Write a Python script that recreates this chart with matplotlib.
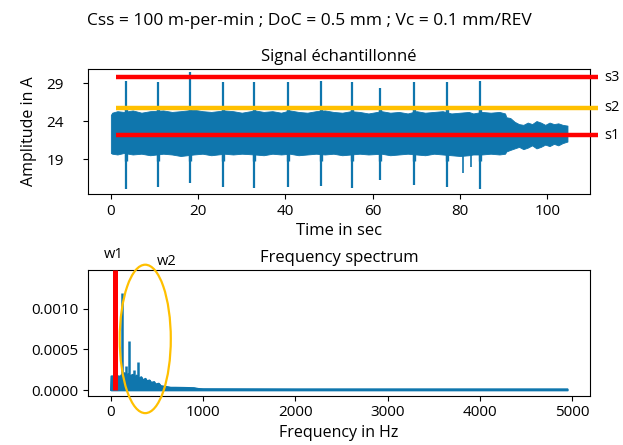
import matplotlib
matplotlib.use("Agg")
import matplotlib.pyplot as plt
from matplotlib.patches import Ellipse

plt.rcParams['font.family'] = ['Open Sans', 'DejaVu Sans']

# ---------------- data ----------------
suptitle_text = "Css = 100 m-per-min ; DoC = 0.5 mm ; Vc = 0.1 mm/REV"

# sampled signal: envelope of the dense current band
env_t = [0, 0.3, 1.5, 3, 5, 7, 9, 12, 14, 16, 19, 21, 23, 26, 28, 30, 33, 35, 37, 39,
         41, 43, 45, 47, 49, 51, 53, 55, 57, 59, 62, 64, 66, 68, 70, 72, 74, 76, 78, 80,
         82, 83, 85, 87, 89, 90.3, 90.6, 91.5, 92.5, 93.5, 94.5, 95.5, 96.5, 97.5, 98.5,
         99.5, 100.5, 101.5, 102.5, 103.5, 104.6]
env_upper = [24.8, 25.1, 25.3, 25.2, 25.4, 25.1, 25.3, 25.4, 25.2, 25.3, 25.5, 25.3, 25.2,
             25.4, 25.3, 25.1, 25.4, 25.2, 25.3, 25.1, 25.4, 25.2, 25.1, 25.3, 25.4, 25.2,
             25.1, 25.3, 25.2, 25.0, 25.3, 25.1, 25.2, 25.0, 25.3, 25.1, 25.2, 25.3, 25.0,
             25.1, 25.2, 25.0, 25.2, 25.1, 25.2, 25.0, 24.5, 24.4, 23.9, 23.6, 23.5, 23.8,
             23.6, 24.0, 23.8, 23.5, 23.8, 23.6, 23.7, 23.5, 23.4]
env_lower = [19.8, 19.7, 19.6, 19.8, 19.6, 19.7, 19.5, 19.7, 19.6, 19.4, 19.6, 19.7, 19.5,
             19.7, 19.6, 19.7, 19.6, 19.5, 19.7, 19.6, 19.7, 19.5, 19.6, 19.7, 19.6, 19.7,
             19.5, 19.6, 19.7, 19.6, 19.7, 19.5, 19.6, 19.7, 19.6, 19.5, 19.7, 19.6, 19.5,
             19.4, 19.5, 19.6, 19.6, 19.7, 19.6, 19.7, 20.0, 20.2, 20.4, 20.6, 20.3, 20.5,
             20.8, 20.4, 20.6, 20.9, 20.7, 21.0, 20.8, 21.1, 21.3]

# periodic spikes in the signal
spike_t = [3.5, 10.9, 18.1, 25.6, 32.9, 40.5, 48.2, 55.2, 61.7, 69.4, 77.0, 84.5]
spike_top = [29.3, 29.2, 30.4, 29.2, 29.1, 29.2, 29.3, 29.1, 28.3, 29.1, 29.2, 29.3]
spike_bot = [15.1, 15.3, 15.9, 15.3, 15.2, 15.3, 15.5, 15.2, 16.3, 15.6, 15.3, 15.1]
bump_top = 25.8
bump_bot = 18.7
dip_t = [80.6, 82.4]
dip_bot = [17.2, 18.0]

# threshold lines s1, s2, s3
thr_names = ["s3", "s2", "s1"]
thr_values = [29.75, 25.75, 22.16]
thr_colors = ["#ff0000", "#ffc000", "#ff0000"]
thr_start = 1.1
thr_end = 111.6

# frequency spectrum
spec_f = [0, 5, 90, 100, 110, 150, 160, 190, 200, 240, 250, 280, 300, 330, 345, 375, 390,
          420, 435, 470, 480, 520, 540, 600, 650, 700, 800, 900, 950, 1000, 2000, 3000,
          4000, 4950]
spec_a = [0.0, 0.00017, 0.00017, 0.00013, 0.00018, 0.00021, 0.00017, 0.00020, 0.00017,
          0.00019, 0.00015, 0.00018, 0.00014, 0.00016, 0.00012, 0.00014, 0.00011, 0.00012,
          0.00009, 0.00010, 0.00007, 0.00008, 0.00005, 0.00004, 0.00003, 0.00003,
          0.000028, 0.000025, 0.000015, 0.000012, 0.00001, 0.00001, 0.00001, 0.00001]
peak_f = [121, 164, 200, 246, 290]
peak_a = [0.0012, 0.0003, 0.0006, 0.00025, 0.00034]

w1_freq = 43
w2_center = (373, 0.00063)
w2_size = (554, 0.00183)

# ---------------- figure ----------------
blue = "#0f76ad"
fig = plt.figure(figsize=(6.23, 4.45), dpi=100)
fig.text(0.497, 0.953, suptitle_text, ha="center", va="center", fontsize=12.5)

ax1 = fig.add_axes([0.1413, 0.564, 0.806, 0.281])
ax1.fill_between(env_t, env_lower, env_upper, color=blue, lw=0.6, edgecolor=blue)
ax1.vlines(spike_t, spike_bot, spike_top, color=blue, lw=1.6)
ax1.vlines(spike_t, bump_bot, bump_top, color=blue, lw=2.4)
ax1.vlines(dip_t, dip_bot, [19.6] * len(dip_t), color=blue, lw=1.2)
for name, val, col in zip(thr_names, thr_values, thr_colors):
    ax1.plot([thr_start, thr_end], [val, val], color=col, lw=3.2, clip_on=False,
             solid_capstyle="butt", zorder=5)
    ax1.text(113.0, val, name, ha="left", va="center", fontsize=10.5, clip_on=False)
ax1.set_xlim(-5.23, 109.8)
ax1.set_ylim(14.4, 30.85)
ax1.set_yticks([19, 24, 29])
ax1.set_xticks([0, 20, 40, 60, 80, 100])
ax1.set_title("Signal échantillonné", fontsize=12, pad=6)
ax1.set_xlabel("Time in sec", fontsize=12, labelpad=3)
ax1.set_ylabel("Amplitude in A", fontsize=11.5, labelpad=7)
ax1.tick_params(labelsize=11)
ax1.tick_params(axis="y", pad=14)

ax2 = fig.add_axes([0.1413, 0.1108, 0.806, 0.2825])
ax2.fill_between(spec_f, 0, spec_a, color=blue, lw=1.2, edgecolor=blue)
ax2.plot(spec_f, spec_a, color=blue, lw=1.2)
ax2.vlines(peak_f, 0, peak_a, color=blue, lw=1.8)
ax2.set_xlim(-247.5, 5197.5)
ax2.set_ylim(-0.00007, 0.00148)
ax2.plot([w1_freq, w1_freq], [0, 0.00148], color="#ff0000", lw=3.6, clip_on=False,
         solid_capstyle="butt", zorder=5)
ell = Ellipse(w2_center, w2_size[0], w2_size[1], fill=False, edgecolor="#ffc000",
              lw=1.6, clip_on=False, zorder=6)
ax2.add_patch(ell)
ax2.text(w1_freq - 10, 0.00167, "w1", ha="center", va="center", fontsize=10.5, clip_on=False)
ax2.text(610, 0.00159, "w2", ha="center", va="center", fontsize=10.5, clip_on=False)
ax2.set_yticks([0, 0.0005, 0.0010])
ax2.set_yticklabels(["0.0000", "0.0005", "0.0010"])
ax2.set_xticks([0, 1000, 2000, 3000, 4000, 5000])
ax2.set_title("Frequency spectrum", fontsize=12, pad=6)
ax2.set_xlabel("Frequency in Hz", fontsize=11.5, labelpad=3)
ax2.tick_params(labelsize=11)

fig.savefig("out.png", dpi=100)
